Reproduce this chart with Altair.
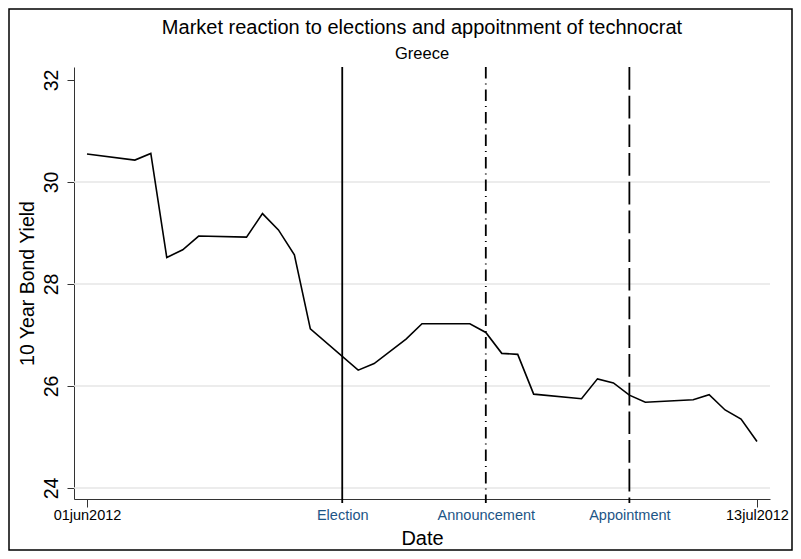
import altair as alt
import pandas as pd

# Greek 10-year bond yield, daily (trading days)
dates = [
    "2012-06-01", "2012-06-04", "2012-06-05", "2012-06-06", "2012-06-07", "2012-06-08",
    "2012-06-11", "2012-06-12", "2012-06-13", "2012-06-14", "2012-06-15",
    "2012-06-18", "2012-06-19", "2012-06-21", "2012-06-22",
    "2012-06-25", "2012-06-26", "2012-06-27", "2012-06-28", "2012-06-29",
    "2012-07-02", "2012-07-03", "2012-07-04", "2012-07-05", "2012-07-06",
    "2012-07-09", "2012-07-10", "2012-07-11", "2012-07-12", "2012-07-13",
]
yields = [
    30.55, 30.43, 30.56, 28.52, 28.67, 28.94,
    28.92, 29.38, 29.06, 28.57, 27.12,
    26.31, 26.44, 26.92, 27.22,
    27.22, 27.05, 26.64, 26.62, 25.84,
    25.75, 26.14, 26.06, 25.82, 25.68,
    25.73, 25.83, 25.53, 25.35, 24.91,
]

event_names = ["Election", "Announcement", "Appointment"]
event_dates = ["2012-06-17", "2012-06-26", "2012-07-05"]
event_dash = [[1, 0], [11.5, 5, 1, 5], [22.7, 6]]

y_ticks = [24, 26, 28, 30, 32]
grid_values = [24, 26, 28, 30]
start_label = "01jun2012"
end_label = "13jul2012"
title_text = "Market reaction to elections and appoitnment of technocrat"
subtitle_text = "Greece"

origin = pd.Timestamp(dates[0])
df = pd.DataFrame({
    "day": [(pd.Timestamp(d) - origin).days for d in dates],
    "yield": yields,
})
ev = pd.DataFrame({
    "name": event_names,
    "day": [(pd.Timestamp(d) - origin).days for d in event_dates],
})
last_day = int(df["day"].max())

W, H = 696, 432
PL, PT, PR, PB = 66, 59, 23, 52
FONT = "Liberation Sans"

x_ticks = [0] + ev["day"].tolist() + [last_day]
label_map = {0: start_label, last_day: end_label}
for n, d in zip(ev["name"], ev["day"]):
    label_map[int(d)] = n
label_expr = " : ".join(
    [f"datum.value == {k} ? '{v}'" for k, v in label_map.items()] + ["''"]
)
is_end = f"datum.value == 0 || datum.value == {last_day}"

x_scale = alt.Scale(domain=[-0.815, 42.815], nice=False, zero=False)
y_scale = alt.Scale(domain=[23.784, 32.255], nice=False, zero=False)

x_axis = alt.Axis(
    values=x_ticks, labelExpr=label_expr, title="Date", grid=False,
    tickSize=8, tickColor=alt.expr(f"{is_end} ? '#333333' : 'transparent'"),
    labelColor=alt.expr(f"{is_end} ? '#000000' : '#1d5586'"),
    labelFontSize=14.5, labelPadding=1, titleFontSize=20, titlePadding=7,
    titleFontWeight="normal", domainColor="#333333", labelFont=FONT, titleFont=FONT,
    labelOverlap=False, labelFlush=False,
)
y_axis = alt.Axis(
    values=y_ticks, title="10 Year Bond Yield", grid=False,
    tickSize=7, tickColor="#333333", labelAngle=-90, labelAlign="center",
    labelBaseline="bottom", labelFontSize=19.5, labelPadding=6,
    titleFontSize=19.5, titlePadding=4, titleFontWeight="normal",
    domainColor="#333333", labelFont=FONT, titleFont=FONT,
)

grid = alt.Chart(pd.DataFrame({"g": grid_values})).mark_rule(
    color="#e6e6e6", strokeWidth=1.5
).encode(
    y=alt.Y("g:Q", scale=y_scale, axis=y_axis),
    x=alt.value(0), x2=alt.value(W),
)

line = alt.Chart(df).mark_line(color="black", strokeWidth=1.6).encode(
    x=alt.X("day:Q", scale=x_scale, axis=x_axis),
    y=alt.Y("yield:Q", scale=y_scale, axis=y_axis),
)

vlines = []
for i, (n, d) in enumerate(zip(ev["name"], ev["day"])):
    vlines.append(
        alt.Chart(pd.DataFrame({"day": [d], "name": [n]})).mark_rule(
            color="black", strokeWidth=1.8, strokeDash=event_dash[i]
        ).encode(
            x=alt.X("day:Q", scale=x_scale, axis=x_axis),
            y=alt.value(0), y2=alt.value(H + 4),
        )
    )

border = alt.Chart(pd.DataFrame({"a": [0]})).mark_rect(
    fill="transparent", stroke="black", strokeWidth=1.5
).encode(
    x=alt.value(-PL + 1), x2=alt.value(W + PR - 1),
    y=alt.value(-PT + 1), y2=alt.value(H + PB - 1),
)

title = alt.Chart(pd.DataFrame({"t": [title_text]})).mark_text(
    font=FONT, fontSize=20, color="black", align="center", baseline="alphabetic"
).encode(text="t:N", x=alt.value(W / 2), y=alt.value(-33))

subtitle = alt.Chart(pd.DataFrame({"t": [subtitle_text]})).mark_text(
    font=FONT, fontSize=16.5, color="black", align="center", baseline="alphabetic"
).encode(text="t:N", x=alt.value(W / 2), y=alt.value(-8))

chart = alt.layer(border, grid, line, *vlines, title, subtitle).properties(
    width=W, height=H,
    autosize="none",
    padding={"left": PL, "top": PT, "right": PR, "bottom": PB},
    background="white",
).configure_view(strokeWidth=0, stroke="transparent").configure_axis(
    grid=False
)

chart.save("out.html", embed_options={"renderer": "svg", "actions": False})
